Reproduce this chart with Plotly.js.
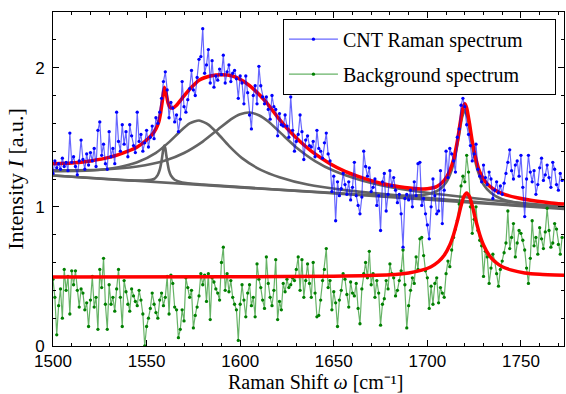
<!DOCTYPE html>
<html>
<head>
<meta charset="utf-8">
<script src="https://cdn.plot.ly/plotly-3.0.1.min.js"></script>
<style>html,body{margin:0;padding:0;background:#fff;}#chart{width:566px;height:394px;}</style>
</head>
<body>
<div id="chart"></div>
<script>
// Raman shift grid of the measured spectra (cm^-1): start and step
const shiftStart = 1500;
const shiftStep = 1;

// CNT Raman spectrum
const cntSpectrum = [
1.24,1.33,1.28,1.31,1.27,1.35,1.29,1.32,1.26,1.53,
1.32,1.36,1.29,1.23,1.33,1.48,1.34,1.27,1.38,1.30,
1.39,1.33,1.42,1.29,1.55,1.61,1.37,1.45,1.31,1.27,
1.54,1.36,1.42,1.31,1.68,1.47,1.40,1.59,1.45,1.54,
1.36,1.59,1.51,1.44,1.39,1.68,1.47,1.52,1.40,1.46,
1.55,1.43,1.50,1.58,1.49,1.64,1.60,1.68,1.78,1.90,
1.97,1.84,1.64,1.75,1.71,1.61,1.66,1.54,1.63,1.90,
1.72,1.68,1.77,1.85,1.98,1.84,1.80,1.93,2.06,2.08,
2.28,1.96,2.02,2.13,1.89,2.05,1.86,1.94,1.91,1.99,
1.95,2.09,1.89,1.97,2.02,1.90,1.96,1.98,1.92,1.78,
1.94,1.89,1.74,1.94,1.82,1.66,1.56,1.80,1.87,1.74,
2.01,1.87,1.79,1.74,1.79,1.70,1.63,1.80,1.72,1.70,
1.51,1.67,1.59,1.58,1.66,1.58,1.50,1.79,1.55,1.40,
1.47,1.52,1.66,1.54,1.34,1.48,1.51,1.44,1.43,1.47,
1.36,1.55,1.42,1.40,1.35,1.46,1.53,1.38,1.33,1.11,
1.22,0.90,1.18,1.08,1.13,1.24,1.16,1.09,1.18,1.05,
1.14,1.32,1.08,1.01,0.95,1.07,1.40,1.29,1.22,1.28,
1.11,1.14,1.20,1.01,1.08,0.83,1.18,1.24,0.97,1.09,
1.26,1.15,1.21,1.12,1.03,1.09,0.95,0.71,1.06,1.09,
1.05,1.12,1.00,1.18,1.08,1.31,1.32,1.01,1.06,0.95,
0.87,0.77,1.00,1.20,1.08,0.95,0.97,1.26,0.88,1.12,
1.40,1.21,1.42,1.38,1.33,1.25,1.50,1.56,1.73,1.78,
1.72,1.59,1.52,1.44,1.33,1.38,1.45,1.27,1.22,1.18,
1.30,1.21,1.16,1.25,1.20,1.06,1.12,1.18,1.10,1.15,
1.09,1.17,1.24,1.32,1.41,1.26,1.20,1.30,1.33,1.22,
1.37,1.14,0.93,1.20,1.37,1.25,1.18,1.26,1.09,1.16,
1.28,1.35,1.19,1.23,1.30,1.21,1.14,1.32,1.27,1.16,
1.12,1.24,1.19];

// Background spectrum
const bgSpectrum = [
0.48,0.35,0.08,0.29,0.41,0.20,0.55,0.40,0.50,0.23,
0.54,0.44,0.54,0.40,0.28,0.41,0.38,0.26,0.31,0.14,
0.33,0.50,0.28,0.35,0.12,0.55,0.42,0.63,0.30,0.12,
0.44,0.30,0.35,0.25,0.41,0.55,0.35,0.14,0.47,0.39,
0.30,0.25,0.41,0.36,0.32,0.29,0.40,0.33,0.23,0.00,
0.14,0.20,0.27,0.38,0.30,0.24,0.20,0.33,0.38,0.29,
0.35,0.50,0.23,0.51,0.45,0.28,0.26,0.06,0.12,0.26,
0.18,0.49,0.42,0.35,0.40,0.13,0.22,0.28,0.36,0.52,
0.44,0.51,0.32,0.52,0.19,0.49,0.46,0.41,0.38,0.33,
0.60,0.71,0.40,0.52,0.39,0.47,0.35,0.30,0.26,0.04,
0.30,0.44,0.33,0.21,0.38,0.44,0.29,0.35,0.21,0.59,
0.48,0.42,0.33,0.27,0.64,0.45,0.35,0.29,0.40,0.62,
0.19,0.32,0.26,0.45,0.39,0.48,0.42,0.44,0.49,0.47,
0.55,0.64,0.40,0.62,0.35,0.47,0.59,0.45,0.35,0.60,
0.38,0.21,0.22,0.33,0.47,0.55,0.70,0.42,0.47,0.26,
0.39,0.31,0.14,0.33,0.40,0.52,0.48,0.37,0.28,0.46,
0.38,0.36,0.45,0.27,0.16,0.41,0.52,0.60,0.49,0.68,
0.44,0.52,0.35,0.47,0.38,0.15,0.30,0.34,0.47,0.41,
0.59,0.52,0.49,0.36,0.40,0.47,0.54,0.69,0.44,0.13,
0.29,0.40,0.49,0.45,0.64,0.55,0.77,0.78,0.65,0.54,
0.49,0.27,0.43,0.30,0.45,0.49,0.31,0.42,0.38,0.35,
0.52,0.61,0.57,0.69,0.78,0.84,0.90,1.02,1.15,1.22,
1.18,1.37,1.25,1.00,0.81,0.91,1.00,0.83,0.76,0.72,
0.50,0.68,0.64,0.45,0.56,0.66,0.61,0.52,0.43,0.55,
0.61,0.67,0.74,0.97,0.70,0.78,0.88,0.64,0.74,0.83,
0.81,0.76,0.69,0.56,0.45,0.63,0.90,0.72,0.78,0.66,
0.85,0.77,0.70,0.82,0.99,0.83,0.71,0.74,0.88,0.84,
0.73,0.66,0.78];

// Fit of CNT spectrum (red)
const fitX = [1500,1510,1520,1530,1540,1545,1550,1553,1555,1556.5,1557.5,1558.5,1559.5,1560.5,1561.5,1562.5,1564,1566,1569,1573,1578,1584,1590,1596,1602,1608,1614,1620,1626,1632,1640,1648,1656,1665,1675,1685,1695,1700,1705,1709,1712,1714,1716,1717.5,1719,1720,1721,1722.5,1724,1726,1728,1731,1735,1740,1748,1756,1765,1773];
const fitY = [1.31,1.315,1.33,1.355,1.40,1.43,1.48,1.52,1.56,1.61,1.675,1.77,1.86,1.81,1.745,1.715,1.71,1.73,1.78,1.845,1.91,1.94,1.95,1.94,1.90,1.835,1.75,1.645,1.55,1.47,1.38,1.31,1.255,1.21,1.17,1.145,1.13,1.13,1.145,1.19,1.26,1.34,1.47,1.60,1.71,1.74,1.71,1.60,1.47,1.34,1.25,1.18,1.13,1.095,1.065,1.045,1.03,1.02];

// Fit of background spectrum (red)
const bgFitX = [1500,1600,1650,1680,1690,1697,1702,1706,1709,1712,1714,1716,1718,1719.5,1721,1722.5,1724,1726,1728,1730,1733,1736,1740,1745,1752,1760,1773];
const bgFitY = [0.495,0.498,0.502,0.512,0.525,0.545,0.57,0.607,0.652,0.726,0.80,0.897,1.007,1.074,1.10,1.074,1.007,0.897,0.80,0.726,0.652,0.607,0.57,0.545,0.525,0.515,0.508];

// Fit components (gray): baseline + single peak each
const comp1X = [1500,1540,1550,1554,1556,1557,1558,1558.5,1559,1559.5,1560,1560.5,1561,1562,1563,1565,1569,1580,1773];
const comp1Y = [1.225,1.19,1.19,1.20,1.23,1.265,1.33,1.375,1.42,1.44,1.42,1.374,1.33,1.26,1.225,1.195,1.175,1.16,0.985];
const comp2X = [1500,1520,1535,1545,1555,1562,1568,1573,1578,1583,1588,1594,1601,1611,1621,1636,1656,1690,1730,1773];
const comp2Y = [1.256,1.261,1.285,1.32,1.388,1.465,1.543,1.599,1.62,1.591,1.527,1.438,1.35,1.266,1.213,1.16,1.12,1.075,1.03,0.99];
const comp3X = [1500,1525,1545,1560,1570,1580,1588,1595,1600,1605,1610,1615,1622,1630,1640,1650,1665,1685,1710,1740,1773];
const comp3Y = [1.263,1.267,1.29,1.333,1.387,1.469,1.554,1.629,1.666,1.678,1.658,1.613,1.526,1.427,1.329,1.259,1.19,1.13,1.085,1.04,1.0];
const comp4X = [1500,1600,1660,1690,1700,1706,1710,1713,1715,1717,1718.5,1720,1721.5,1723,1725,1727,1730,1734,1740,1750,1773];
const comp4Y = [1.225,1.14,1.092,1.08,1.09,1.12,1.175,1.265,1.37,1.52,1.64,1.695,1.64,1.52,1.365,1.255,1.16,1.10,1.055,1.025,0.99];

const seriesNames = ['CNT Raman spectrum', 'Background spectrum'];
const xTickVals = [1500,1550,1600,1650,1700,1750];
const yTickVals = [0,1,2];
const xTitle = 'Raman Shift <i>ω</i> [cm⁻¹]';
const yTitle = 'Intensity <i>I</i> [a.u.]';

const spectrumX = cntSpectrum.map((_, i) => shiftStart + i * shiftStep);
const pad = '\u00a0\u00a0\u00a0\u00a0\u00a0';

const grayLine = {color: 'rgb(100,100,100)', width: 2.6, shape: 'spline', smoothing: 0.6};
const traces = [];
[[comp1X, comp1Y],[comp2X, comp2Y],[comp3X, comp3Y],[comp4X, comp4Y]].forEach(c => {
  traces.push({x: c[0], y: c[1], type: 'scatter', mode: 'lines', line: grayLine, showlegend: false, hoverinfo: 'skip'});
});
traces.push({x: spectrumX, y: bgSpectrum, type: 'scatter', mode: 'lines+markers', name: seriesNames[1] + pad + '\u00a0',
  legendgroup: 'b', legendrank: 2,
  line: {color: 'rgba(0,128,0,0.6)', width: 1.2}, marker: {color: 'rgb(0,128,0)', size: 3.3}});
traces.push({x: bgFitX, y: bgFitY, type: 'scatter', mode: 'lines', showlegend: false,
  line: {color: 'rgb(255,0,0)', width: 3.5, shape: 'spline', smoothing: 0.6}});
traces.push({x: fitX, y: fitY, type: 'scatter', mode: 'lines', showlegend: false,
  line: {color: 'rgb(255,0,0)', width: 3.5, shape: 'spline', smoothing: 0.6}});
traces.push({x: spectrumX, y: cntSpectrum, type: 'scatter', mode: 'lines+markers', name: seriesNames[0] + pad,
  legendgroup: 'a', legendrank: 1,
  line: {color: 'rgba(0,0,255,0.6)', width: 1.2}, marker: {color: 'rgb(0,0,255)', size: 3.3}});

const axisCommon = {
  showline: true, linecolor: '#000', linewidth: 1, mirror: 'ticks',
  ticks: 'inside', ticklen: 6, tickcolor: '#000', tickwidth: 1,
  showgrid: false, zeroline: false,
  tickfont: {family: 'Liberation Sans, Arial, sans-serif', size: 17, color: '#000'}
};

const serif = 'Liberation Serif, Times New Roman, serif';

const layout = {
  width: 566, height: 394,
  margin: {l: 53, r: 2, t: 12, b: 48},
  paper_bgcolor: '#fff', plot_bgcolor: '#fff',
  xaxis: Object.assign({}, axisCommon, {
    range: [1500, 1773], tickvals: xTickVals, ticktext: xTickVals.map(String),
    ticklabelstandoff: 0,
    minor: {ticks: 'inside', dtick: 10, tick0: 1500, ticklen: 3, tickcolor: '#000'}
  }),
  yaxis: Object.assign({}, axisCommon, {
    range: [0, 2.4], tickvals: yTickVals, ticktext: yTickVals.map(String),
    ticklabelstandoff: 4,
    minor: {ticks: 'inside', dtick: 0.2, tick0: 0, ticklen: 3, tickcolor: '#000'},
    title: {text: yTitle, standoff: 5, font: {family: serif, size: 22, color: '#000'}}
  }),
  annotations: [{
    text: xTitle, xref: 'paper', yref: 'paper', x: 0.513, y: -0.1437,
    xanchor: 'center', yanchor: 'bottom', showarrow: false, borderpad: 0,
    font: {family: serif, size: 20, color: '#000'}
  }],
  legend: {
    x: 0.45, y: 0.98, xanchor: 'left', yanchor: 'top',
    bgcolor: '#fff', bordercolor: '#000', borderwidth: 1,
    tracegroupgap: 6, traceorder: 'grouped', itemwidth: 49,
    font: {family: serif, size: 20, color: '#000'}
  },
  showlegend: true
};

Plotly.newPlot('chart', traces, layout, {displayModeBar: false, staticPlot: true});
</script>
</body>
</html>
